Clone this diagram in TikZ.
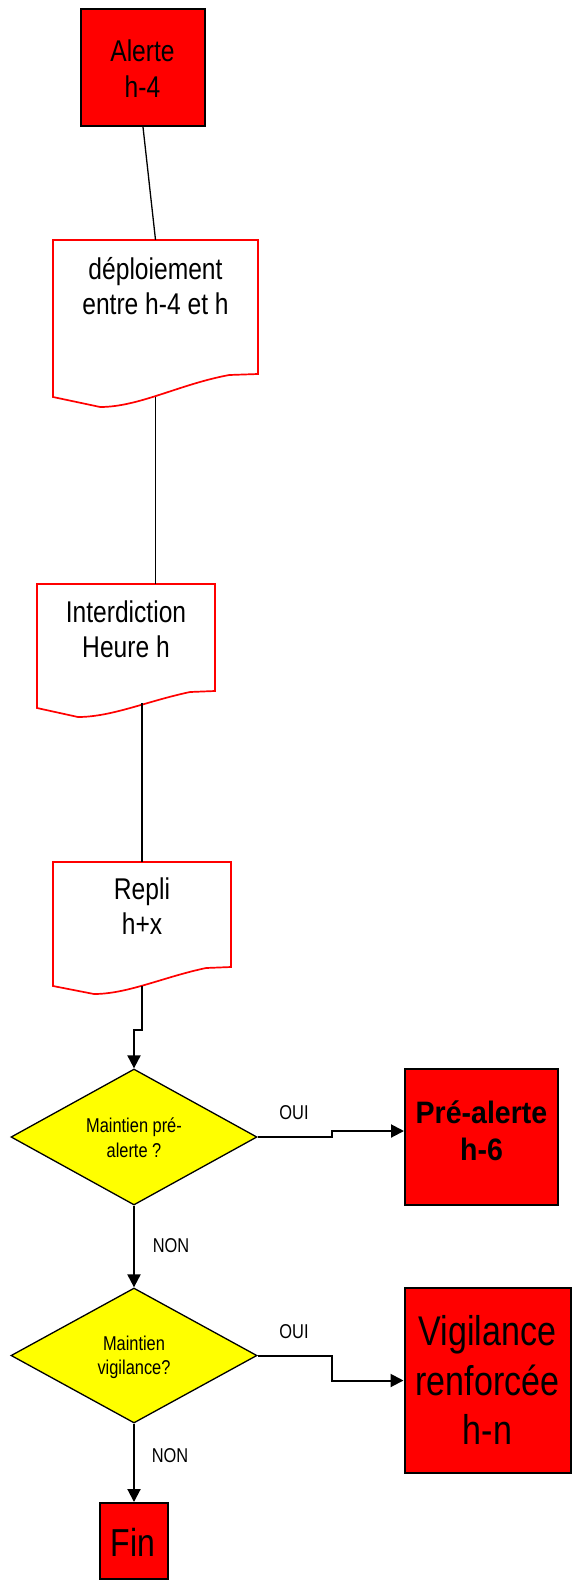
\documentclass[tikz,border=0pt]{standalone}
\usepackage{fontspec}
\setmainfont[FakeStretch=0.82]{Liberation Sans}
\newfontfamily\headfont[FakeStretch=0.92]{Liberation Sans}
\usetikzlibrary{shapes.geometric,arrows.meta,calc}
\definecolor{alertred}{RGB}{255,0,0}
\definecolor{askyellow}{RGB}{255,255,0}

% document symbol: name, left x, right x, top y, right-bottom y, left-bottom y, dip of the wave
\newcommand\docnode[7]{%
  \path[docline] (#2,#4) -- (#3,#4) -- (#3,#5)
    -- ({#2+0.86*(#3-#2)},{#5+1})
    .. controls ({#2+0.62*(#3-#2)},{#5+10}) and ({#2+0.42*(#3-#2)},{#6+#7})
    .. ({#2+0.23*(#3-#2)},{#6+#7}) -- (#2,#6) -- cycle;
  \node[docbox,minimum width={(#3-#2)*1pt},minimum height={(#6-#4)*1pt}]
    (#1) at ({(#2+#3)/2},{(#4+#6)/2}) {};}

\begin{document}
\begin{tikzpicture}[x=1pt,y=-1pt,
  redbox/.style={rectangle,draw=black,fill=alertred,line width=2pt,inner sep=0pt},
  docbox/.style={rectangle,draw=none,inner sep=0pt},
  docline/.style={draw=alertred,fill=white,line width=1.7pt},
  question/.style={diamond,draw=black,fill=askyellow,line width=1.3pt,inner sep=0pt},
  txt/.style={align=center,inner sep=0pt,text=black},
  bigtxt/.style={txt,font=\fontsize{30}{36}\selectfont},
  asktxt/.style={txt,font=\fontsize{20}{25}\selectfont},
  answer/.style={inner sep=0pt,text=black,font=\fontsize{20}{24}\selectfont},
  link/.style={draw=black,line width=1.3pt},
  flow/.style={draw=black,line width=2pt,-{Triangle[length=13pt,width=13pt]}},
]
\useasboundingbox (0,0) rectangle (572,1581);

% shapes
\node[redbox,minimum width=124pt,minimum height=117pt] (alerte) at (143,67.5) {};
\docnode{doc1}{53}{258}{240}{374}{397}{10}
\docnode{doc2}{37}{215}{584}{691}{708}{9}
\docnode{doc3}{53}{231}{862}{967}{986}{8}
\node[question,minimum width=246pt,minimum height=136pt] (q1) at (134,1137) {};
\node[question,minimum width=246pt,minimum height=135pt] (q2) at (134,1355.5) {};
\node[redbox,minimum width=153pt,minimum height=136pt] (pre) at (481.5,1137) {};
\node[redbox,minimum width=166pt,minimum height=185pt] (vig) at (487.5,1380.5) {};
\node[redbox,minimum width=68pt,minimum height=76pt] (fin) at (134,1541) {};

% connectors
\coordinate (d2out) at (142,703);
\draw[link] (alerte.south) -- (doc1.north);
\draw[link] (doc1.south) -- (doc1.south |- doc2.north);
\draw[link] (d2out) -- (doc3.north);
\draw[flow] (doc3.south) |- ([yshift=38pt]q1.north) -- (q1.north);
\draw[flow] (q1.east) -- ++(74,0) |- ([yshift=6pt]pre.west);
\draw[flow] (q1.south) -- (q2.north);
\draw[flow] (q2.east) -- ++(74,0) |- (vig.west);
\draw[flow] (q2.south) -- (fin.north);

% texts
\node[bigtxt] (alerte-t) at (142.5,68.5) {Alerte\\h-4};
\node[bigtxt,font=\fontsize{30}{35}\selectfont] (doc1-t) at (155.5,286.5) {déploiement\\entre h-4 et h};
\node[bigtxt,font=\fontsize{30}{35}\selectfont] (doc2-t) at (126,629.5) {Interdiction\\Heure h};
\node[bigtxt,font=\fontsize{30}{35}\selectfont] (doc3-t) at (142,906.5) {Repli\\h+x};
\node[asktxt] (q1-t) at (134,1138.2) {Maintien pré-\\alerte ?};
\node[asktxt,font=\fontsize{20}{24}\selectfont] (q2-t) at (134,1357.8) {Maintien\\vigilance?};
\node[txt,font=\headfont\bfseries\fontsize{31}{37}\selectfont] (pre-t) at (481.5,1130.5) {Pré-alerte\\h-6};
\node[txt,font=\fontsize{41.5}{49.5}\selectfont] (vig-t) at (487.5,1380.3) {Vigilance\\renforcée\\h-n};
\node[txt,font=\fontsize{39}{47}\selectfont] (fin-t) at (133,1542.4) {Fin};
\node[answer] (oui1) at (294,1112.8) {OUI};
\node[answer] (oui2) at (294,1331.8) {OUI};
\node[answer] (non1) at (171,1245.8) {NON};
\node[answer] (non2) at (170,1455.8) {NON};
\end{tikzpicture}
\end{document}
